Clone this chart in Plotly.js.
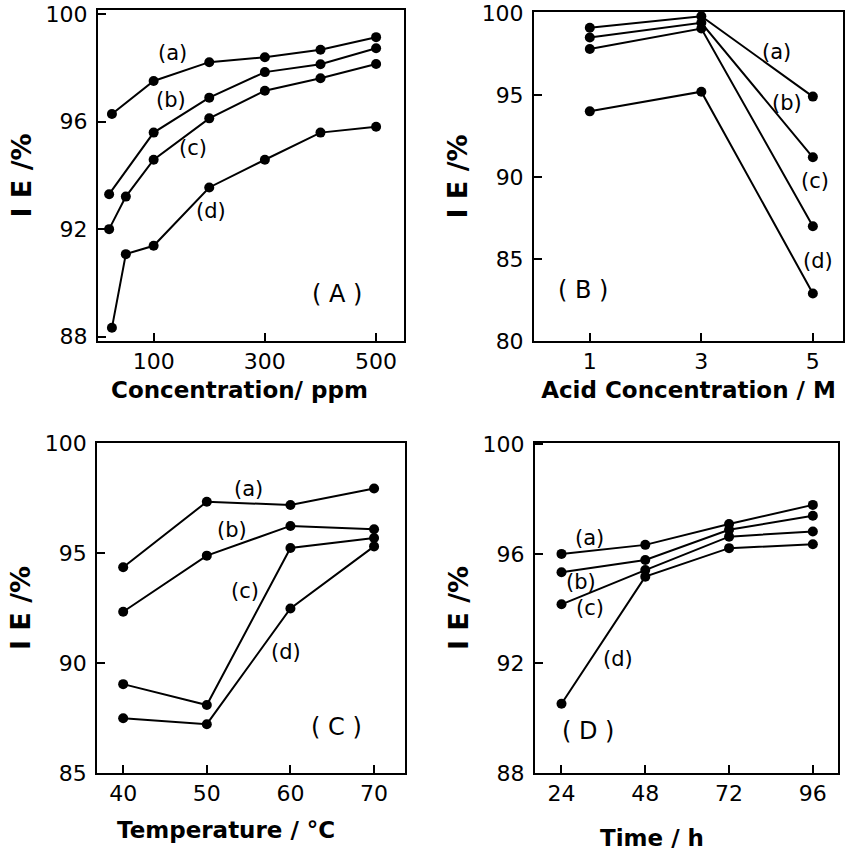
<!DOCTYPE html>
<html>
<head>
<meta charset="utf-8">
<script src="https://cdn.plot.ly/plotly-3.0.1.min.js"></script>
<style>html,body{margin:0;padding:0;background:#fff;}#chart{width:845px;height:854px;}</style>
</head>
<body>
<div id="chart"></div>
<script>
// ---- Panel A: IE vs inhibitor concentration (ppm)
const concA_a = [25, 100, 200, 300, 400, 500];
const concA_b = [20, 100, 200, 300, 400, 500];
const concA_c = [20, 50, 100, 200, 300, 400, 500];
const concA_d = [25, 50, 100, 200, 300, 400, 500];
const ieA_a = [96.28, 97.51, 98.21, 98.39, 98.67, 99.14];
const ieA_b = [93.30, 95.59, 96.89, 97.84, 98.13, 98.73];
const ieA_c = [92.00, 93.21, 94.58, 96.12, 97.15, 97.61, 98.14];
const ieA_d = [88.33, 91.07, 91.38, 93.55, 94.58, 95.59, 95.81];

// ---- Panel B: IE vs acid concentration (M)
const acidB = [1, 3, 5];
const ieB_a = [99.1, 99.8, 94.9];
const ieB_b = [98.5, 99.4, 91.2];
const ieB_c = [97.8, 99.05, 87.0];
const ieB_d = [94.0, 95.2, 82.9];

// ---- Panel C: IE vs temperature (°C)
const tempC = [40, 50, 60, 70];
const ieC_a = [94.35, 97.33, 97.18, 97.93];
const ieC_b = [92.33, 94.88, 96.23, 96.08];
const ieC_c = [89.04, 88.09, 95.23, 95.68];
const ieC_d = [87.49, 87.22, 92.48, 95.30];

// ---- Panel D: IE vs time (h)
const timeD = [24, 48, 72, 96];
const ieD_a = [96.00, 96.33, 97.09, 97.79];
const ieD_b = [95.33, 95.78, 96.88, 97.39];
const ieD_c = [94.16, 95.41, 96.63, 96.82];
const ieD_d = [90.53, 95.17, 96.21, 96.35];

// ---- tick labels
const ticksA_x = [100, 300, 500], ticksA_y = [88, 92, 96, 100];
const ticksB_x = [1, 3, 5], ticksB_y = [80, 85, 90, 95, 100];
const ticksC_x = [40, 50, 60, 70], ticksC_y = [85, 90, 95, 100];
const ticksD_x = [24, 48, 72, 96], ticksD_y = [88, 92, 96, 100];

const seriesNames = ['(a)', '(b)', '(c)', '(d)'];
const xTitles = ['Concentration/ ppm', 'Acid Concentration / M', 'Temperature / °C', 'Time / h'];

const FONT = 'DejaVu Sans, sans-serif';
function tr(x, y, xa, ya, name) {
  return {
    x: x, y: y, xaxis: xa, yaxis: ya, name: name, type: 'scatter',
    mode: 'lines+markers', showlegend: false,
    line: {color: '#000', width: 2},
    marker: {color: '#000', size: 10}
  };
}

const data = [
  tr(concA_a, ieA_a, 'x', 'y', seriesNames[0]),
  tr(concA_b, ieA_b, 'x', 'y', seriesNames[1]),
  tr(concA_c, ieA_c, 'x', 'y', seriesNames[2]),
  tr(concA_d, ieA_d, 'x', 'y', seriesNames[3]),
  tr(acidB, ieB_a, 'x2', 'y2', seriesNames[0]),
  tr(acidB, ieB_b, 'x2', 'y2', seriesNames[1]),
  tr(acidB, ieB_c, 'x2', 'y2', seriesNames[2]),
  tr(acidB, ieB_d, 'x2', 'y2', seriesNames[3]),
  tr(tempC, ieC_a, 'x3', 'y3', seriesNames[0]),
  tr(tempC, ieC_b, 'x3', 'y3', seriesNames[1]),
  tr(tempC, ieC_c, 'x3', 'y3', seriesNames[2]),
  tr(tempC, ieC_d, 'x3', 'y3', seriesNames[3]),
  tr(timeD, ieD_a, 'x4', 'y4', seriesNames[0]),
  tr(timeD, ieD_b, 'x4', 'y4', seriesNames[1]),
  tr(timeD, ieD_c, 'x4', 'y4', seriesNames[2]),
  tr(timeD, ieD_d, 'x4', 'y4', seriesNames[3])
];

function xax(domain, range, ticks, title, anchor, standoff, tstand) {
  return {
    domain: domain, range: range, anchor: anchor,
    tickmode: 'array', tickvals: ticks,
    ticks: 'inside', ticklen: 8, tickwidth: 2, tickcolor: '#000',
    showline: true, linecolor: '#000', linewidth: 2, mirror: true,
    showgrid: false, zeroline: false,
    tickfont: {family: FONT, size: 22, color: '#000'},
    ticklabelstandoff: tstand,
    title: {text: title, standoff: standoff, font: {family: FONT, size: 23, color: '#000', weight: 'bold'}}
  };
}
function yax(domain, range, ticks, anchor, standoff) {
  return {
    domain: domain, range: range, anchor: anchor,
    tickmode: 'array', tickvals: ticks,
    ticks: 'inside', ticklen: 8, tickwidth: 2, tickcolor: '#000',
    showline: true, linecolor: '#000', linewidth: 2, mirror: true,
    showgrid: false, zeroline: false,
    tickfont: {family: FONT, size: 22, color: '#000'},
    ticklabelstandoff: 4,
    title: {text: 'I E /%', standoff: standoff, font: {family: FONT, size: 27, color: '#000', weight: 'bold'}}
  };
}

const topDom = [0.6007, 0.9883], topDomB = [0.6007, 0.986];
const botDom = [0.0948, 0.4813];

const layout = {
  width: 845, height: 854,
  margin: {l: 0, r: 0, t: 0, b: 0},
  paper_bgcolor: '#fff', plot_bgcolor: '#fff',
  font: {family: FONT, color: '#000'},
  xaxis:  xax([0.116, 0.478], [0, 550], ticksA_x, '', 'y', 8, 0),
  yaxis:  yax(topDom, [87.84, 100.15], ticksA_y, 'x', 6),
  xaxis2: xax([0.632, 0.9976], [0, 5.54], ticksB_x, xTitles[1], 'y2', 8, 0),
  yaxis2: yax(topDomB, [80, 100.06], ticksB_y, 'x2', 6),
  xaxis3: xax([0.1151, 0.4793], [36.9, 73.7], ticksC_x, '', 'y3', 18, 0),
  yaxis3: yax(botDom, [85, 100], ticksC_y, 'x3', 6),
  xaxis4: xax([0.6331, 0.9917], [16.4, 103.2], ticksD_x, '', 'y4', 18, 0),
  yaxis4: yax(botDom, [88, 100.05], ticksD_y, 'x4', 6),
  annotations: []
};

function lab(text, x, y, xr, yr, size) {
  return {text: text, x: x, y: y, xref: xr, yref: yr, showarrow: false,
          font: {family: FONT, size: size || 21, color: '#000'}};
}
layout.annotations.push(
  lab('(a)', 134, 98.55, 'x', 'y'), lab('(b)', 132, 96.8, 'x', 'y'),
  lab('(c)', 170, 95.0, 'x', 'y'), lab('(d)', 204, 92.67, 'x', 'y'),
  lab('( A )', 429, 89.6, 'x', 'y', 24),
  lab('(a)', 4.35, 97.64, 'x2', 'y2'), lab('(b)', 4.53, 94.49, 'x2', 'y2'),
  lab('(c)', 5.04, 89.73, 'x2', 'y2'), lab('(d)', 5.10, 84.86, 'x2', 'y2'),
  lab('( B )', 0.88, 83.13, 'x2', 'y2', 24),
  lab('(a)', 54.95, 97.93, 'x3', 'y3'), lab('(b)', 52.96, 96.05, 'x3', 'y3'),
  lab('(c)', 54.6, 93.27, 'x3', 'y3'), lab('(d)', 59.5, 90.5, 'x3', 'y3'),
  lab('( C )', 65.5, 87.1, 'x3', 'y3', 24),
  lab('(a)', 32.1, 96.57, 'x4', 'y4'), lab('(b)', 29.7, 94.99, 'x4', 'y4'),
  lab('(c)', 32.1, 94.01, 'x4', 'y4'), lab('(d)', 40.2, 92.18, 'x4', 'y4'),
  lab('( D )', 31.6, 89.55, 'x4', 'y4', 24)
);
// x-axis titles placed off-centre as in the original
function xt(text, x, y) {
  return {text: text, x: x, y: y, xref: 'paper', yref: 'paper', showarrow: false,
          xanchor: 'center', yanchor: 'middle', font: {family: FONT, size: 23, color: '#000', weight: 'bold'}};
}
layout.annotations.push(
  xt(xTitles[0], 0.284, 0.543),
  xt(xTitles[2], 0.2675, 0.0281),
  xt(xTitles[3], 0.7716, 0.0187)
);

Plotly.newPlot('chart', data, layout, {staticPlot: true, displayModeBar: false});
</script>
</body>
</html>
